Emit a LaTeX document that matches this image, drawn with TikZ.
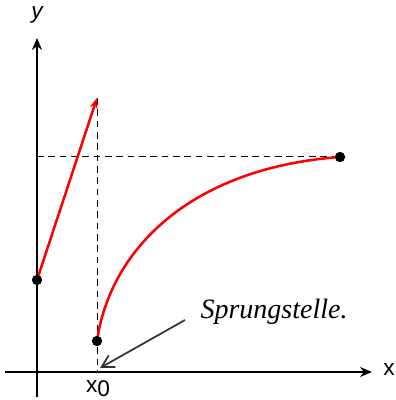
\documentclass[tikz,border=0pt]{standalone}
\usepackage{fontspec}
\setmainfont{Liberation Sans}
\newfontfamily\handfont{Liberation Serif}
\usetikzlibrary{arrows.meta}

\tikzset{
  axis/.style={line width=1.9pt,-{Stealth[length=9pt,width=7.5pt]}},
  jumpline/.style={red,line width=1.9pt},
  helpline/.style={line width=0.75pt,dash pattern=on 5pt off 3.5pt},
  dot/.style={circle,fill=black,inner sep=0pt,minimum size=7.5pt},
  label/.style={font=\fontsize{17}{20}\selectfont}
}

\begin{document}
\begin{tikzpicture}[x=0.75pt,y=0.75pt, every node/.style={align=center}]
  \useasboundingbox (0,0) rectangle (396,400);
  % axes
  \coordinate (xstart) at (5,28);
  \coordinate (xend) at (372,28);
  \coordinate (ystart) at (37,3);
  \coordinate (yend) at (37,362);
  \draw[axis] (xstart) -- (xend);
  \draw[axis] (ystart) -- (yend);
  \node[label,font=\fontsize{17}{20}\selectfont\itshape] (ylab) at (37,385) {y};
  \node[label] (xlab) at (389,30) {x};
  \node[label] (xnull) at (98,11) {x\raisebox{-3pt}{0}};

  % points
  \coordinate (xzero) at (97,28);
  \coordinate (top) at (97,302);
  \node[dot] (left) at (37,120) {};
  \node[dot] (low) at (97,59) {};
  \node[dot] (high) at (340,243) {};
  \coordinate (yhigh) at (37,243);

  % dashed help lines
  \draw[helpline] (top) -- (xzero);
  \draw[helpline] (yhigh) -- (high);

  % left branch and right branch
  \draw[jumpline,-{Stealth[length=8pt,width=6pt]}] (left.center) -- (top);
  \draw[jumpline] (low.center) .. controls (110,150) and (190,232) .. (high.center);
  \node[dot] at (left) {};
  \node[dot] at (low) {};
  \node[dot] at (high) {};

  % annotation
  \node[font=\handfont\itshape\fontsize{21}{24}\selectfont] (note) at (274,88) {Sprungstelle.};
  \coordinate (notetail) at (185,80);
  \coordinate (notetip) at (100,32);
  \draw[black!80,line width=1.3pt,-{Straight Barb[length=9pt,width=10pt]}] (notetail) -- (notetip);
\end{tikzpicture}
\end{document}
